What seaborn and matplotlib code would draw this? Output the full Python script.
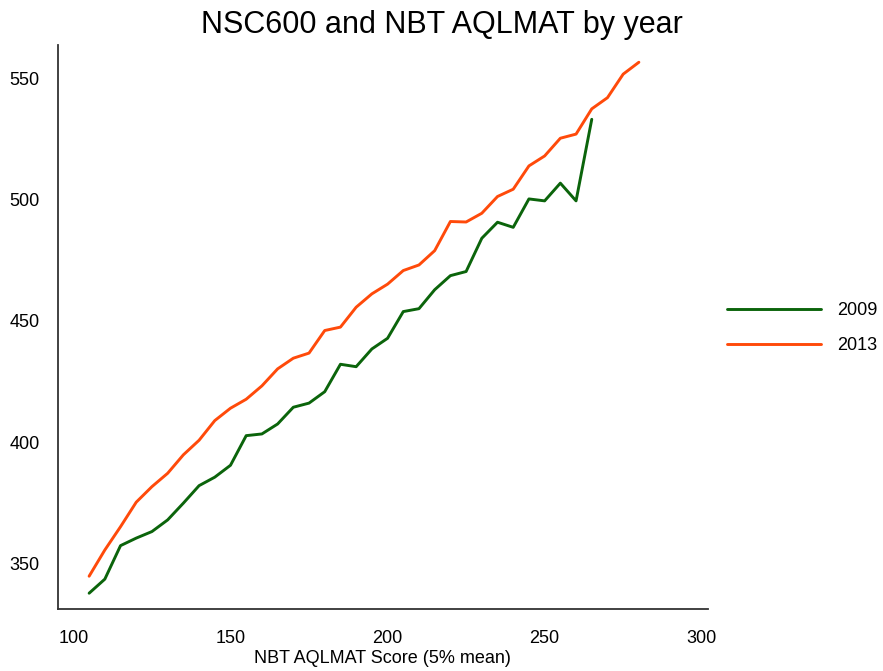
import numpy as np
import pandas as pd
import matplotlib
matplotlib.use("Agg")
import matplotlib.pyplot as plt
import seaborn as sns

# ---- data ----
x_2009 = [105, 110, 115, 120, 125, 130, 135, 140, 145, 150, 155, 160, 165, 170, 175,
          180, 185, 190, 195, 200, 205, 210, 215, 220, 225, 230, 235, 240, 245, 250,
          255, 260, 265]
y_2009 = [337.8, 343.6, 357.4, 360.5, 363.2, 368.0, 374.9, 382.1, 385.6, 390.5, 402.7,
          403.4, 407.5, 414.4, 416.1, 420.8, 432.1, 431.1, 438.4, 442.8, 453.8, 455.0,
          462.8, 468.6, 470.3, 484.0, 490.6, 488.5, 500.2, 499.4, 506.7, 499.4, 533.0]

x_2013 = [105, 110, 115, 120, 125, 130, 135, 140, 145, 150, 155, 160, 165, 170, 175,
          180, 185, 190, 195, 200, 205, 210, 215, 220, 225, 230, 235, 240, 245, 250,
          255, 260, 265, 270, 275, 280]
y_2013 = [344.8, 355.6, 365.2, 375.3, 381.7, 387.2, 394.8, 400.8, 408.9, 414.0, 417.7,
          423.2, 430.2, 434.6, 436.7, 446.0, 447.4, 455.6, 461.1, 465.1, 470.7, 473.0,
          478.9, 490.9, 490.7, 494.3, 501.2, 504.2, 513.8, 517.9, 525.2, 526.9, 537.3,
          541.9, 551.6, 556.5]

years = ["2009", "2013"]
colors = ["#0B640B", "#FF4A0A"]

title = "NSC600 and NBT AQLMAT by year"
xlabel = "NBT AQLMAT Score (5% mean)"
xticks = [100, 150, 200, 250, 300]
yticks = [350, 400, 450, 500, 550]

df = pd.concat([
    pd.DataFrame({"score": x_2009, "nsc": y_2009, "year": years[0]}),
    pd.DataFrame({"score": x_2013, "nsc": y_2013, "year": years[1]}),
], ignore_index=True)

sns.set_style("white")
plt.rcParams["font.family"] = ["Liberation Sans", "DejaVu Sans"]
plt.rcParams["text.color"] = "black"
plt.rcParams["axes.labelcolor"] = "black"

fig = plt.figure(figsize=(8.83, 6.71), dpi=100)
ax = fig.add_axes([57.7 / 883, 1 - 609 / 671, (708 - 57.7) / 883, (609 - 45) / 671])

sns.lineplot(data=df, x="score", y="nsc", hue="year", hue_order=years,
             palette=dict(zip(years, colors)), linewidth=2.1, ax=ax, legend=True)

ax.set_xlim(95, 302)
ax.set_ylim(331.3, 563.6)
ax.set_xticks(xticks)
ax.set_yticks(yticks)
ax.tick_params(axis="both", direction="out", length=7, width=1.2, color="#333333",
               labelsize=13, pad=6, labelcolor="black")
ax.tick_params(axis="x", pad=8)
for s in ["top", "right"]:
    ax.spines[s].set_visible(False)
for s in ["left", "bottom"]:
    ax.spines[s].set_color("#333333")
    ax.spines[s].set_linewidth(1.3)

ax.set_xlabel(xlabel, fontsize=13, labelpad=2, color="black")
ax.set_ylabel("")
fig.suptitle(title, fontsize=22, x=0.5, y=0.985, va="top", color="black")

handles, labels = ax.get_legend_handles_labels()
leg = ax.legend(handles, labels, loc="center left", frameon=False, fontsize=13,
                bbox_to_anchor=(727 / 883, 1 - 328 / 671), bbox_transform=fig.transFigure,
                borderaxespad=0, borderpad=0, handlelength=5.2, handletextpad=0.9,
                labelspacing=1.0)
for t in leg.get_texts():
    t.set_color("black")

fig.savefig("out.png", dpi=100)
